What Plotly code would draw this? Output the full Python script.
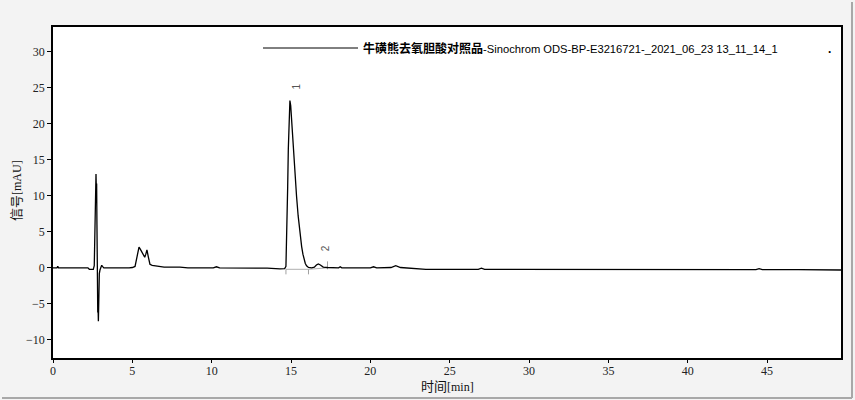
import plotly.graph_objects as go

# Chromatogram data (time in min, signal in mAU)
time_min = [0, 0.25, 0.3, 0.35, 0.5, 2.2, 2.29, 2.54, 2.6, 2.65, 2.67, 2.69, 2.71, 2.73, 2.75, 2.77,
            2.79, 2.82, 2.84, 2.86, 2.88, 2.92, 2.96, 3.02, 3.07, 3.12, 3.2, 4.8, 5.0, 5.17, 5.25,
            5.35, 5.42, 5.5, 5.65, 5.78, 5.85, 5.92, 6.0, 6.11, 6.25, 6.43, 6.7, 7.0, 8.0, 8.5,
            10.1, 10.3, 10.5, 12.0, 13.5, 14.3, 14.6, 14.68, 14.75, 14.79, 14.83, 14.87, 14.93,
            14.98, 15.04, 15.14, 15.25, 15.35, 15.45, 15.52, 15.6, 15.67, 15.75, 15.82, 15.9,
            15.98, 16.1, 16.3, 16.47, 16.6, 16.72, 16.85, 17.03, 17.3, 18.0, 18.1, 18.2, 19.0,
            20.0, 20.2, 20.4, 21.3, 21.6, 21.9, 23.0, 23.5, 26.8, 27.0, 27.2, 30.0, 35.0, 40.0,
            44.3, 44.5, 44.7, 47.0, 49.66]
signal = [0.0, 0.0, 0.2, 0.0, 0.0, 0.0, -0.2, -0.2, 0.3, 7.8, 6.0, 8.2, 13.0, 11.0, 11.7, 6.0,
          -2.0, -6.2, -5.5, -7.4, -3.0, -0.8, -0.3, 0.2, 0.35, 0.2, 0.0, 0.0, 0.05, 0.2, 1.2,
          2.5, 2.87, 2.6, 1.9, 1.48, 1.9, 2.5, 1.6, 0.5, 0.35, 0.3, 0.15, 0.1, 0.1, 0.0,
          0.0, 0.15, 0.0, 0.0, -0.05, -0.15, -0.1, 0.2, 5.5, 11.3, 16.5, 20.5, 23.2,
          22.5, 20.5, 15.9, 12.8, 9.9, 7.2, 5.7, 4.2, 2.95, 1.9, 1.1, 0.6,
          0.28, 0.05, 0.0, 0.1, 0.4, 0.55, 0.4, 0.1, 0.05, 0.0, 0.15, 0.0, 0.0,
          0.0, 0.15, 0.0, 0.05, 0.3, 0.05, -0.1, -0.2, -0.2, -0.05, -0.2, -0.2, -0.2, -0.22,
          -0.25, -0.1, -0.25, -0.25, -0.3]

# Peak annotations
peak_labels = ["1", "2"]
peak_times = [14.93, 16.72]
peak_heights = [23.2, 0.55]

# Integration baselines (start, end) for each peak
base_t = [[14.68, 16.1], [16.1, 17.3]]
base_y = [[-0.2, -0.2], [-0.2, 0.0]]

x_ticks = [0, 5, 10, 15, 20, 25, 30, 35, 40, 45]
y_ticks = [-10, -5, 0, 5, 10, 15, 20, 25, 30]

series_cn = "牛磺熊去氧胆酸对照品"
series_en = "-Sinochrom ODS-BP-E3216721-_2021_06_23 13_11_14_1"
x_title = "时间<span style='font-family:Liberation Serif;font-size:12px'>[min]</span>"
y_title = "信号<span style='font-family:Liberation Serif;font-size:12px'>[mAU]</span>"

fig = go.Figure()

for bt, by in zip(base_t, base_y):
    fig.add_trace(go.Scatter(x=bt, y=by, mode="lines",
                             line=dict(color="#b0b0b0", width=1), showlegend=False,
                             hoverinfo="skip"))
tick_t = [14.68, 16.1, 17.3]
tick_lo = [-0.9, -0.9, -0.2]
tick_hi = [-0.2, -0.2, 0.9]
for tt, lo, hi in zip(tick_t, tick_lo, tick_hi):
    fig.add_trace(go.Scatter(x=[tt, tt], y=[lo, hi], mode="lines",
                             line=dict(color="#a0a0a0", width=1), showlegend=False,
                             hoverinfo="skip"))

fig.add_trace(go.Scatter(x=time_min, y=signal, mode="lines",
                         line=dict(color="black", width=1.3), showlegend=False))

for lab, pt, ph in zip(peak_labels, peak_times, peak_heights):
    fig.add_annotation(x=pt, y=ph, text=lab, showarrow=False, textangle=-90,
                       xshift=7 if lab == "1" else 8, yshift=14 if lab == "1" else 16,
                       font=dict(family="Liberation Sans, Arial", size=10, color="#555555"))

W, H = 855, 400
L, R, T, B = 53, 14, 27, 42
pw, ph_ = W - L - R, H - T - B

def px(x):
    return (x - L) / pw

def py(y):
    return (H - B - y) / ph_

# legend replica
fig.add_shape(type="line", xref="paper", yref="paper", x0=px(263), x1=px(358),
              y0=py(48), y1=py(48), line=dict(color="black", width=1))
fig.add_annotation(xref="paper", yref="paper", x=px(361), y=py(48), xanchor="left",
                   yanchor="middle",
                   text="<b><span style='font-size:12px'>" + series_cn + "</span></b>" + series_en,
                   showarrow=False,
                   font=dict(family="Liberation Sans, Arial, Noto Sans CJK SC", size=11.2, color="black"))
fig.add_annotation(xref="paper", yref="paper", x=px(829), y=py(49), xanchor="center",
                   yanchor="middle", text="<b>.</b>", showarrow=False,
                   font=dict(family="Liberation Sans", size=12, color="black"))

# axis titles
title_font = dict(family="Noto Sans CJK SC, Liberation Serif", size=13, color="#111111")
fig.add_annotation(xref="paper", yref="paper", x=px(447), y=py(385), xanchor="center",
                   yanchor="middle", text=x_title, showarrow=False, font=title_font)
fig.add_annotation(xref="paper", yref="paper", x=px(15), y=py(191), xanchor="center",
                   yanchor="middle", text=y_title, showarrow=False, textangle=-90,
                   font=title_font)

# outer frame lines (right/bottom)
fig.add_shape(type="line", xref="paper", yref="paper", x0=px(852), x1=px(852),
              y0=py(2), y1=py(398), line=dict(color="#a8a8a8", width=2))
fig.add_shape(type="line", xref="paper", yref="paper", x0=px(2), x1=px(852),
              y0=py(398), y1=py(398), line=dict(color="#a8a8a8", width=2))

axis_font = dict(family="Liberation Serif, Times New Roman", size=12, color="#222222")
fig.update_layout(
    width=W, height=H,
    margin=dict(l=L, r=R, t=T, b=B, autoexpand=False),
    paper_bgcolor="#f3f3f3", plot_bgcolor="white",
    xaxis=dict(range=[0, 49.66], tickvals=x_ticks, ticks="outside", ticklen=3,
               tickcolor="black", showgrid=False, zeroline=False, showline=True,
               linecolor="black", linewidth=1.5, mirror=True, tickfont=axis_font,
               automargin=False, ticklabelstandoff=-2),
    yaxis=dict(range=[-12.5, 33.4], tickvals=y_ticks, ticks="outside", ticklen=4,
               tickcolor="black", showgrid=False, zeroline=False, showline=True,
               linecolor="black", linewidth=1.5, mirror=True, tickfont=axis_font,
               automargin=False),
)

fig.write_html("out.html", config={"displayModeBar": False},
               post_script="document.body.style.margin='0';document.body.style.background='#f3f3f3';")
